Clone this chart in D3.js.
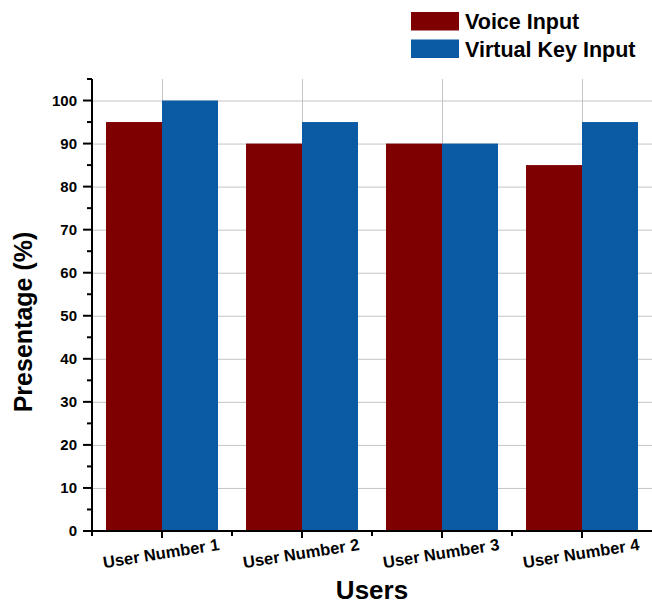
<!DOCTYPE html>
<html>
<head>
<meta charset="utf-8">
<script src="https://cdn.jsdelivr.net/npm/d3@7"></script>
<style>
  body { margin: 0; background: #fff; }
  svg { display: block; font-family: "Liberation Sans", Arial, sans-serif; }
</style>
</head>
<body>
<svg id="chart" width="652" height="605"></svg>
<script>
const categories = ["User Number 1", "User Number 2", "User Number 3", "User Number 4"];
const seriesNames = ["Voice Input", "Virtual Key Input"];
const voiceInput = [95, 90, 90, 85];
const virtualKeyInput = [100, 95, 90, 95];
const yTicks = [0, 10, 20, 30, 40, 50, 60, 70, 80, 90, 100];
const yMinorTicks = [5, 15, 25, 35, 45, 55, 65, 75, 85, 95, 105];
const colors = ["#7f0000", "#0a5ba4"];

const series = [voiceInput, virtualKeyInput];
const svg = d3.select("#chart");

const mLeft = 92, mRight = 652, mTop = 79, mBottom = 531;

const x0 = d3.scaleBand().domain(categories).range([mLeft, mRight]).paddingInner(0.2).paddingOuter(0.1);
const x1 = d3.scaleBand().domain(seriesNames).range([0, x0.bandwidth()]);
const y = d3.scaleLinear().domain([0, 105]).range([mBottom, mTop]);

// grid
const grid = svg.append("g");
grid.selectAll("line").data(yTicks.filter(d => d > 0)).join("line")
  .attr("x1", mLeft).attr("x2", mRight)
  .attr("y1", d => y(d) + 0.5).attr("y2", d => y(d) + 0.5)
  .attr("stroke", "#c4c4c4").attr("stroke-width", 1);
const grid2 = svg.append("g");
grid2.selectAll("line").data(categories).join("line")
  .attr("x1", d => Math.round(x0(d) + x0.bandwidth() / 2) + 0.5)
  .attr("x2", d => Math.round(x0(d) + x0.bandwidth() / 2) + 0.5)
  .attr("y1", mTop).attr("y2", mBottom)
  .attr("stroke", "#c4c4c4").attr("stroke-width", 1);

// bars
const groups = svg.append("g").selectAll("g").data(categories).join("g")
  .attr("transform", d => `translate(${x0(d)},0)`);
groups.selectAll("rect").data((c, i) => seriesNames.map((s, j) => ({ s, v: series[j][i], j })))
  .join("rect")
  .attr("x", d => x1(d.s))
  .attr("y", d => y(d.v))
  .attr("width", x1.bandwidth())
  .attr("height", d => y(0) - y(d.v))
  .attr("fill", d => colors[d.j]);

// y axis
const yAxis = svg.append("g").attr("transform", `translate(${mLeft},0)`);
yAxis.append("line").attr("x1", 0).attr("x2", 0).attr("y1", mTop).attr("y2", mBottom + 1)
  .attr("stroke", "#000").attr("stroke-width", 2);
yAxis.append("g").selectAll("line").data(yTicks).join("line")
  .attr("x1", -9).attr("x2", 0).attr("y1", d => y(d)).attr("y2", d => y(d))
  .attr("stroke", "#000").attr("stroke-width", 2);
yAxis.append("g").selectAll("line").data(yMinorTicks).join("line")
  .attr("x1", -5).attr("x2", 0).attr("y1", d => y(d)).attr("y2", d => y(d))
  .attr("stroke", "#000").attr("stroke-width", 2);
yAxis.append("g").selectAll("text").data(yTicks).join("text")
  .attr("x", -15).attr("y", d => y(d)).attr("dy", "0.36em")
  .attr("text-anchor", "end").attr("font-size", 15).attr("font-weight", "bold")
  .text(d => d);

// x axis
const xAxis = svg.append("g");
xAxis.append("line").attr("x1", mLeft - 1).attr("x2", mRight).attr("y1", mBottom).attr("y2", mBottom)
  .attr("stroke", "#000").attr("stroke-width", 2);
xAxis.append("g").selectAll("line").data(categories).join("line")
  .attr("x1", d => x0(d) + x0.bandwidth() / 2).attr("x2", d => x0(d) + x0.bandwidth() / 2)
  .attr("y1", mBottom).attr("y2", mBottom + 7)
  .attr("stroke", "#000").attr("stroke-width", 2);
xAxis.append("g").selectAll("line").data(categories).join("line")
  .attr("x1", d => x0(d) - x0.step() * 0.1).attr("x2", d => x0(d) - x0.step() * 0.1)
  .attr("y1", mBottom).attr("y2", mBottom + 5)
  .attr("stroke", "#000").attr("stroke-width", 2);
xAxis.append("g").selectAll("text").data(categories).join("text")
  .attr("transform", d => `translate(${x0(d) + x0.bandwidth() / 2},559) rotate(-9)`)
  .attr("text-anchor", "middle").attr("font-size", 16.5).attr("font-weight", "bold")
  .text(d => d);

// axis titles
svg.append("text").attr("transform", `translate(32,322) rotate(-90)`)
  .attr("text-anchor", "middle").attr("font-size", 25).attr("font-weight", "bold")
  .text("Presentage (%)");
svg.append("text").attr("x", (mLeft + mRight) / 2).attr("y", 599)
  .attr("text-anchor", "middle").attr("font-size", 26).attr("font-weight", "bold")
  .text("Users");

// legend
const legend = svg.append("g");
seriesNames.forEach((s, i) => {
  legend.append("rect").attr("x", 411).attr("y", 12 + i * 27.5).attr("width", 48).attr("height", 18.5)
    .attr("fill", colors[i]);
  legend.append("text").attr("x", 465).attr("y", 29 + i * 27.5)
    .attr("font-size", 21.5).attr("font-weight", "bold").text(s);
});
</script>
</body>
</html>
